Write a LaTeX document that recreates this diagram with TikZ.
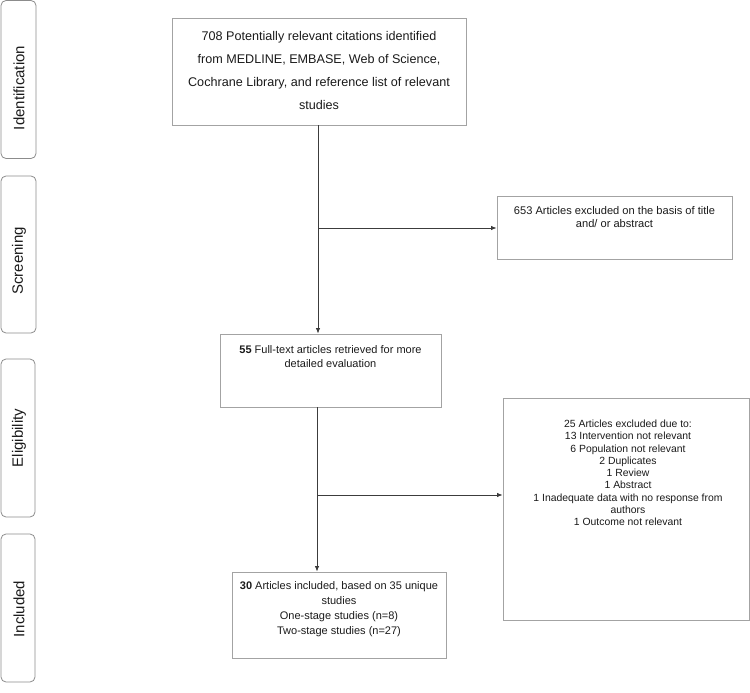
\documentclass[tikz,border=0pt]{standalone}
\usepackage{fontspec}
\setmainfont{Liberation Sans}
\usetikzlibrary{arrows.meta}
\definecolor{boxgray}{HTML}{A3A3A3}
\definecolor{sidegray}{HTML}{8C8C8C}
\definecolor{linegray}{HTML}{3C3C3C}
\definecolor{txtcol}{HTML}{1A1A1A}
\tikzset{
  box/.style={draw=boxgray, line width=0.9pt, rectangle, inner sep=0pt},
  sidebox/.style={draw=sidegray, line width=0.8pt, rounded corners=5pt, rectangle, inner sep=0pt},
  txt/.style={align=center, inner sep=0pt, text=txtcol},
  sidetxt/.style={rotate=90, inner sep=0pt, text=txtcol, font=\fontsize{15}{18}\selectfont},
  flow/.style={draw=linegray, line width=0.8pt, -{Latex[length=5.5pt,width=4.5pt]}}
}
\begin{document}
\begin{tikzpicture}[x=1pt,y=-1pt]
\useasboundingbox (0,0) rectangle (750,693);
% side stage boxes
\node[sidebox, minimum width=35, minimum height=158] (sid) at (18.5,79.5) {};
\node[sidetxt] (tid) at (19,88) {Identification};
\node[sidebox, minimum width=35, minimum height=157] (ssc) at (18.5,254.5) {};
\node[sidetxt] (tsc) at (19,261) {Screening};
\node[sidebox, minimum width=34, minimum height=158] (sel) at (18,438) {};
\node[sidetxt] (tel) at (19,438) {Eligibility};
\node[sidebox, minimum width=34, minimum height=148] (sin) at (18,608) {};
\node[sidetxt] (tin) at (19,609) {Included};
% main boxes
\node[box, minimum width=294, minimum height=107] (b1) at (319,71.5) {};
\node[txt, font=\fontsize{12.6}{23}\selectfont] (t1) at (319,70) {708 Potentially relevant citations identified\\from MEDLINE, EMBASE, Web of Science,\\Cochrane Library, and reference list of relevant\\studies};
\node[box, minimum width=235, minimum height=63] (b2) at (614.5,227.5) {};
\node[txt, font=\fontsize{11.1}{13}\selectfont] (t2) at (614.5,217.5) {653 Articles excluded on the basis of title\\and/ or abstract};
\node[box, minimum width=221, minimum height=73] (b3) at (330.5,370.5) {};
\node[txt, font=\fontsize{11}{14}\selectfont] (t3) at (330.5,357) {\textbf{55} Full-text articles retrieved for more\\detailed evaluation};
\node[box, minimum width=246, minimum height=222] (b4) at (626,509) {};
\node[txt, font=\fontsize{10.4}{12.25}\selectfont] (t4) at (628,473) {25 Articles excluded due to:\\13 Intervention not relevant\\6 Population not relevant\\2 Duplicates\\1 Review\\1 Abstract\\1 Inadequate data with no response from\\authors\\1 Outcome not relevant};
\node[box, minimum width=214, minimum height=86] (b5) at (339,615) {};
\node[txt, font=\fontsize{11}{15}\selectfont] (t5) at (339,609.5) {\textbf{30} Articles included, based on 35 unique\\studies\\One-stage studies (n=8)\\Two-stage studies (n=27)};
% connectors
\coordinate (j1) at (318,228);
\coordinate (j2) at (317,495);
\draw[draw=linegray, line width=0.8pt] (j1 |- b1.south) -- (j1);
\draw[flow] (j1) -- (j1 |- b3.north);
\draw[flow] (j1) -- (j1 -| b2.west);
\draw[draw=linegray, line width=0.8pt] (j2 |- b3.south) -- (j2);
\draw[flow] (j2) -- (j2 |- b5.north);
\draw[flow] (j2) -- (j2 -| b4.west);
\end{tikzpicture}
\end{document}
